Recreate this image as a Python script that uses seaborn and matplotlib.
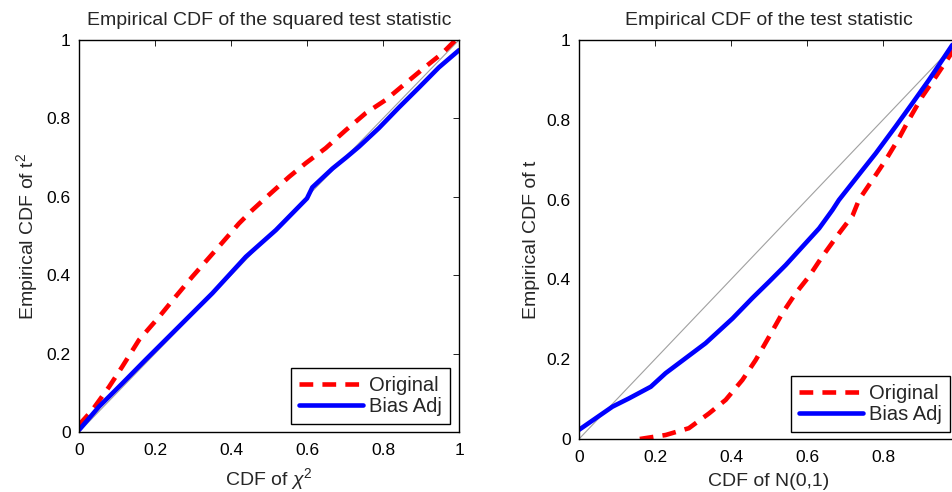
import numpy as np
import pandas as pd
import matplotlib
matplotlib.use("Agg")
import matplotlib.pyplot as plt
import seaborn as sns

# ---- data ----
left_orig_x = [0.0, 0.035, 0.079, 0.114, 0.158, 0.211, 0.254, 0.298, 0.368, 0.421, 0.456, 0.5,
               0.553, 0.597, 0.649, 0.702, 0.754, 0.807, 0.86, 0.912, 0.956, 0.991]
left_orig_y = [0.018, 0.056, 0.115, 0.167, 0.235, 0.294, 0.345, 0.396, 0.473, 0.532, 0.566, 0.605,
               0.651, 0.686, 0.724, 0.77, 0.813, 0.847, 0.89, 0.932, 0.966, 1.0]
left_adj_x = [0.0, 0.053, 0.114, 0.175, 0.263, 0.351, 0.439, 0.518, 0.6, 0.614, 0.667, 0.704,
              0.737, 0.789, 0.842, 0.895, 0.947, 1.0]
left_adj_y = [0.005, 0.065, 0.124, 0.184, 0.269, 0.354, 0.447, 0.515, 0.596, 0.624, 0.672, 0.701,
              0.728, 0.775, 0.828, 0.879, 0.93, 0.974]

right_orig_x = [0.16, 0.228, 0.289, 0.342, 0.386, 0.43, 0.465, 0.5, 0.535, 0.57, 0.605, 0.64,
                0.684, 0.72, 0.737, 0.772, 0.807, 0.842, 0.868, 0.903, 0.939, 0.974, 1.0]
right_orig_y = [0.0, 0.01, 0.027, 0.064, 0.098, 0.148, 0.198, 0.256, 0.315, 0.365, 0.407, 0.457,
                0.515, 0.56, 0.6, 0.649, 0.699, 0.754, 0.8, 0.858, 0.908, 0.958, 0.995]
right_adj_x = [0.0, 0.088, 0.132, 0.189, 0.228, 0.263, 0.333, 0.404, 0.456, 0.5, 0.544, 0.588,
               0.632, 0.667, 0.684, 0.746, 0.781, 0.833, 0.877, 0.921, 0.982, 1.0]
right_adj_y = [0.023, 0.081, 0.102, 0.131, 0.165, 0.19, 0.24, 0.302, 0.353, 0.394, 0.436, 0.482,
               0.528, 0.574, 0.599, 0.674, 0.716, 0.783, 0.841, 0.9, 0.987, 1.0]

ticks = [0, 0.2, 0.4, 0.6, 0.8, 1]
tick_labels = ["0", "0.2", "0.4", "0.6", "0.8", "1"]
series_names = ["Original", "Bias Adj"]

sns.set_style("white")
plt.rcParams["font.family"] = ["Liberation Sans", "DejaVu Sans"]
plt.rcParams["mathtext.fontset"] = "custom"
plt.rcParams["mathtext.rm"] = "Liberation Sans"
plt.rcParams["mathtext.it"] = "Liberation Sans:italic"

fig = plt.figure(figsize=(9.52, 4.92), dpi=100)
ax1 = fig.add_axes([79 / 952, 1 - 432 / 492, 380 / 952, 392 / 492])
ax2 = fig.add_axes([579 / 952, 1 - 439 / 492, 380 / 952, 399 / 492])

def make_df(ox, oy, ax_, ay):
    return pd.concat([
        pd.DataFrame({"x": ox, "y": oy, "s": series_names[0]}),
        pd.DataFrame({"x": ax_, "y": ay, "s": series_names[1]}),
    ], ignore_index=True)

panels = [
    (ax1, make_df(left_orig_x, left_orig_y, left_adj_x, left_adj_y),
     "Empirical CDF of the squared test statistic", r"CDF of $\chi^2$", r"Empirical CDF of t$^2$",
     (450, 424)),
    (ax2, make_df(right_orig_x, right_orig_y, right_adj_x, right_adj_y),
     "Empirical CDF of the test statistic", "CDF of N(0,1)", "Empirical CDF of t",
     (950, 432)),
]

for ax, df, title, xl, yl, corner in panels:
    ax.plot([0, 1], [0, 1], color="#a0a0a0", lw=0.8, zorder=1)
    sns.lineplot(data=df, x="x", y="y", hue="s", style="s",
                 palette={"Original": "#ff0000", "Bias Adj": "#0000ff"},
                 dashes={"Original": (3.0, 2.0), "Bias Adj": ""},
                 linewidth=3.3, sort=False, estimator=None, ax=ax, zorder=2)
    ax.set_xlim(0, 1)
    ax.set_ylim(0, 1)
    ax.set_xticks(ticks)
    ax.set_xticklabels(tick_labels)
    ax.set_yticks(ticks)
    ax.set_yticklabels(tick_labels)
    ax.tick_params(direction="in", length=4, width=0.6, top=True, right=True,
                   labelsize=12.5, colors="black")
    ax.tick_params(axis="x", pad=8)
    ax.tick_params(axis="y", pad=6)
    for sp in ax.spines.values():
        sp.set_color("black")
        sp.set_linewidth(1.0)
    ax.set_title(title, fontsize=14, pad=11)
    ax.set_xlabel(xl, fontsize=14, labelpad=6)
    ax.set_ylabel(yl, fontsize=14, labelpad=5)
    cx, cy = corner
    leg = ax.legend(loc="lower right",
                    bbox_to_anchor=(cx / 952, 1 - cy / 492),
                    bbox_transform=fig.transFigure,
                    fontsize=14.5, frameon=True, fancybox=False, framealpha=1,
                    edgecolor="black", handlelength=3.2, handletextpad=0.3,
                    borderpad=0.38, labelspacing=0.12, borderaxespad=0)
    leg.get_frame().set_linewidth(1.0)
    ax.set_facecolor("white")

ax2.get_xticklabels()[-1].set_visible(False)

fig.savefig("out.png", dpi=100, facecolor="white")
